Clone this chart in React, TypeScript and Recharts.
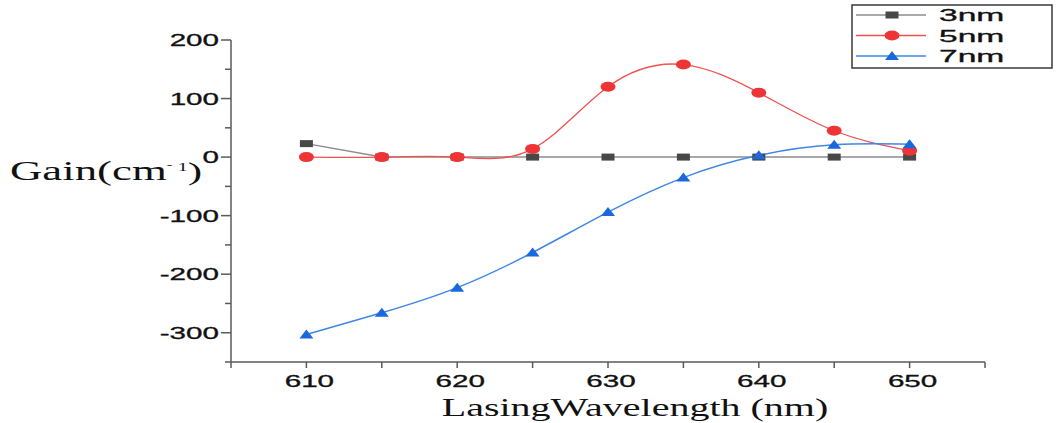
import { LineChart, Line, XAxis, YAxis, Legend, Label } from 'recharts';

const wavelengths = [610, 615, 620, 625, 630, 635, 640, 645, 650];
const gain3nm = [23, 0, 0, 0, 0, 0, 0, 0, 0];
const gain5nm = [0, 0, 0, 14, 120, 158, 110, 45, 11];
const gain7nm = [-303, -266, -223, -163, -94, -35, 3, 21, 22];

const seriesNames = ['3nm', '5nm', '7nm'];
const xTicks = [605, 610, 615, 620, 625, 630, 635, 640, 645, 650, 655];
const yTicks = [-350, -300, -250, -200, -150, -100, -50, 0, 50, 100, 150, 200];

const data = wavelengths.map((w, i) => ({
  w,
  s3: gain3nm[i],
  s5: gain5nm[i],
  s7: gain7nm[i],
}));

const AXIS = '#5a5a5a';
const SANS = '"Liberation Sans", Arial, sans-serif';
const SERIF = '"Liberation Serif", "Times New Roman", serif';

const GRAY_LINE = '#8c8c8c';
const GRAY_MARK = '#484848';
const RED_LINE = '#f05050';
const RED_MARK = '#ee3434';
const BLUE_LINE = '#3f86e6';
const BLUE_MARK = '#1a68de';

function Square({ cx, cy }: any) {
  if (cx == null || cy == null) return null;
  return <rect x={cx - 6.5} y={cy - 3.5} width={13} height={7} fill={GRAY_MARK} />;
}

function Oval({ cx, cy }: any) {
  if (cx == null || cy == null) return null;
  return <ellipse cx={cx} cy={cy} rx={7.5} ry={5} fill={RED_MARK} />;
}

function Tri({ cx, cy }: any) {
  if (cx == null || cy == null) return null;
  return (
    <polygon
      points={`${cx - 7},${cy + 4} ${cx + 7},${cy + 4} ${cx},${cy - 5}`}
      fill={BLUE_MARK}
    />
  );
}

// tick text is drawn wide to match the stretched look of the source figure
function YTick({ x, y, payload }: any) {
  const v = payload.value;
  const major = v % 100 === 0;
  return (
    <g>
      <line x1={x - (major ? 10 : 6)} x2={x} y1={y} y2={y} stroke={AXIS} strokeWidth={1.5} />
      {major && (
        <text
          transform={`translate(${x - 12},${y + 6}) scale(1.85,1)`}
          textAnchor="end"
          fontFamily={SANS}
          fontSize={16}
          fill="#111"
          stroke="#111"
          strokeWidth={0.3}
        >
          {v}
        </text>
      )}
    </g>
  );
}

function XTick({ x, y, payload }: any) {
  const v = payload.value;
  const major = v % 10 === 0;
  return (
    <g>
      <line x1={x} x2={x} y1={y} y2={y + 6} stroke={AXIS} strokeWidth={1.5} />
      {major && (
        <text
          transform={`translate(${x + 3},${y + 25}) scale(1.85,1)`}
          textAnchor="middle"
          fontFamily={SANS}
          fontSize={16}
          fill="#111"
          stroke="#111"
          strokeWidth={0.3}
        >
          {v}
        </text>
      )}
    </g>
  );
}

const legendRows = [
  { name: seriesNames[0], line: GRAY_LINE, Mark: Square },
  { name: seriesNames[1], line: RED_LINE, Mark: Oval },
  { name: seriesNames[2], line: BLUE_LINE, Mark: Tri },
];

function LegendBox() {
  return (
    <svg width={203} height={66} style={{ display: 'block' }}>
      <rect x={1} y={1} width={200} height={63} fill="#fff" stroke="#3a3a3a" strokeWidth={1.5} />
      {legendRows.map((r, i) => {
        const cy = 11 + i * 20.5;
        return (
          <g key={r.name}>
            <line x1={5} x2={75} y1={cy} y2={cy} stroke={r.line} strokeWidth={1.5} />
            <r.Mark cx={41} cy={cy} />
            <text
              transform={`translate(88,${cy + 6}) scale(2.1,1)`}
              fontFamily={SANS}
              fontSize={16}
              fill="#111"
              stroke="#111"
              strokeWidth={0.3}
            >
              {r.name}
            </text>
          </g>
        );
      })}
    </svg>
  );
}

export default function App() {
  return (
    <div style={{ position: 'absolute', left: 0, top: 0, width: 1056, height: 423, background: '#fff' }}>
      <LineChart
        width={1056}
        height={423}
        data={data}
        margin={{ top: 40, right: 71, bottom: 31, left: 171 }}
      >
        <XAxis
          dataKey="w"
          type="number"
          domain={[605, 655]}
          ticks={xTicks}
          interval={0}
          height={30}
          tickSize={0}
          tickMargin={0}
          tick={<XTick />}
          stroke={AXIS}
          strokeWidth={1.5}
        >
          <Label
            content={() => (
              <text
                transform="translate(635,416) scale(1.6,1)"
                textAnchor="middle"
                fontFamily={SERIF}
                fontSize={25}
                fill="#111"
              >
                LasingWavelength (nm)
              </text>
            )}
          />
        </XAxis>
        <YAxis
          type="number"
          domain={[-350, 200]}
          ticks={yTicks}
          interval={0}
          width={60}
          tickSize={0}
          tickMargin={0}
          tick={<YTick />}
          stroke={AXIS}
          strokeWidth={1.5}
        >
          <Label
            content={() => (
              <text
                transform="translate(10,180) scale(1.66,1)"
                fontFamily={SERIF}
                fontSize={27}
                fill="#111"
              >
                Gain(cm
                <tspan fontSize={10} dy={-12}>-</tspan>
                <tspan fontSize={12} dx={3.3} dy={3}>1</tspan>
                <tspan fontSize={26} dy={9}>)</tspan>
              </text>
            )}
          />
        </YAxis>
        <Legend
          layout="vertical"
          align="center"
          verticalAlign="middle"
          wrapperStyle={{ top: 4, left: 851, width: 203 }}
          content={() => <LegendBox />}
        />
        <Line
          dataKey="s3"
          name={seriesNames[0]}
          type="linear"
          stroke={GRAY_LINE}
          strokeWidth={1.5}
          dot={(p: any) => <Square key={`s3-${p.index}`} {...p} />}
          isAnimationActive={false}
        />
        <Line
          dataKey="s5"
          name={seriesNames[1]}
          type="natural"
          stroke={RED_LINE}
          strokeWidth={1.3}
          dot={(p: any) => <Oval key={`s5-${p.index}`} {...p} />}
          isAnimationActive={false}
        />
        <Line
          dataKey="s7"
          name={seriesNames[2]}
          type="natural"
          stroke={BLUE_LINE}
          strokeWidth={1.5}
          dot={(p: any) => <Tri key={`s7-${p.index}`} {...p} />}
          isAnimationActive={false}
        />
      </LineChart>
    </div>
  );
}
